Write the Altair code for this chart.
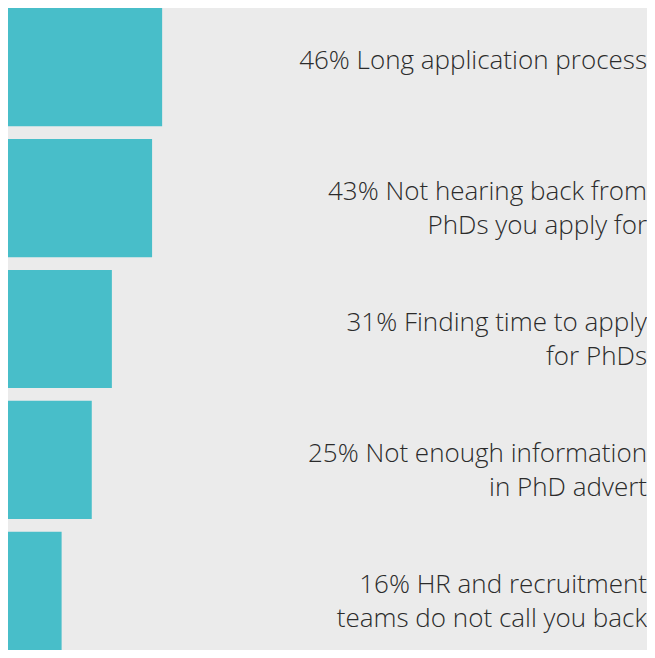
import altair as alt
import pandas as pd

labels = [
    "46% Long application process",
    "43% Not hearing back from\nPhDs you apply for",
    "31% Finding time to apply\nfor PhDs",
    "25% Not enough information\nin PhD advert",
    "16% HR and recruitment\nteams do not call you back",
]
keys = ["a", "b", "c", "d", "e"]
values = [46, 43, 31, 25, 16]

df = pd.DataFrame({"key": keys, "value": values, "label": labels})

W, H = 639, 642
y = alt.Y("key:N", sort=keys, axis=None,
          scale=alt.Scale(paddingInner=0.097, paddingOuter=0))

bars = alt.Chart(df).mark_bar(color="#48bec9").encode(
    x=alt.X("value:Q", axis=None, scale=alt.Scale(domain=[0, 190.7], nice=False)),
    y=y,
)

text = alt.Chart(df).mark_text(
    align="right", baseline="middle", lineBreak="\n", lineHeight=34,
    font="Open Sans", fontWeight=300, fontSize=26, color="#2b2b2b", dy=-6,
).encode(
    x=alt.value(639),
    y=y,
    text="label:N",
)

chart = alt.layer(bars, text).properties(
    width=W, height=H, padding=0, autosize="none", background="#ebebeb"
).configure_view(stroke=None, fill="#ebebeb")

chart.save("out.html", embed_options={"renderer": "svg", "actions": False})
